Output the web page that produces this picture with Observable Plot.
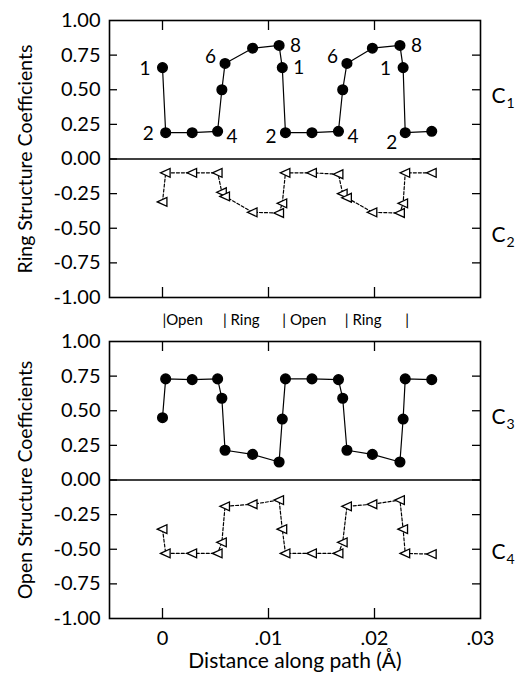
<!DOCTYPE html>
<html>
<head>
<meta charset="utf-8">
<script src="https://cdn.jsdelivr.net/npm/d3@7"></script>
<script src="https://cdn.jsdelivr.net/npm/@observablehq/plot@0.6"></script>
<style>
  html, body { margin: 0; padding: 0; background: #fff; }
  #chart svg { display: block; overflow: visible; }
</style>
</head>
<body>
<div id="chart"></div>
<script>
// ---- data ----
const xPath = [0.0000, 0.0003, 0.0028, 0.0052, 0.0056, 0.0059, 0.0085, 0.0110, 0.0113, 0.0116,
               0.0141, 0.0166, 0.0170, 0.0174, 0.0198, 0.0224, 0.0227, 0.0229, 0.0254];
const c1 = [0.66, 0.19, 0.19, 0.20, 0.50, 0.69, 0.80, 0.82, 0.66, 0.19,
            0.19, 0.20, 0.50, 0.69, 0.80, 0.82, 0.66, 0.19, 0.20];
const c2 = [-0.31, -0.10, -0.10, -0.10, -0.24, -0.27, -0.385, -0.39, -0.32, -0.10,
            -0.10, -0.11, -0.25, -0.28, -0.385, -0.39, -0.32, -0.10, -0.10];
const c3 = [0.45, 0.73, 0.725, 0.73, 0.59, 0.215, 0.185, 0.13, 0.44, 0.73,
            0.73, 0.725, 0.59, 0.215, 0.185, 0.13, 0.44, 0.73, 0.725];
const c4 = [-0.355, -0.53, -0.53, -0.53, -0.45, -0.19, -0.175, -0.145, -0.355, -0.53,
            -0.53, -0.53, -0.45, -0.19, -0.175, -0.145, -0.355, -0.53, -0.535];

// point numbering on C1
const c1LabelIndex = [0, 1, 3, 5, 7, 8, 9, 11, 13, 15, 16, 17];
const c1LabelText  = ["1", "2", "4", "6", "8", "1", "2", "4", "6", "8", "1", "2"];
const c1LabelSide  = ["L", "L", "RD", "LU", "R", "R", "LD", "RD", "LU", "R", "L", "LDD"];

// region labels between panels
const regionX    = [0, 0.0057, 0.0113, 0.0172, 0.0229];
const regionText = ["|Open", "| Ring", "| Open", "| Ring", "|"];

const yTicks = [-1, -0.75, -0.5, -0.25, 0, 0.25, 0.5, 0.75, 1];
const xTicks = [0, 0.01, 0.02, 0.03];
const xDomain = [-0.005, 0.03];
const yDomain = [-1, 1];

const topTitle = "Ring Structure Coefficients";
const bottomTitle = "Open Structure Coefficients";
const xTitle = "Distance along path (Å)";
const seriesNames = ["1", "2", "3", "4"];
const seriesLabelY = [0.45, -0.55, 0.45, -0.52];

// ---- helpers ----
const FONT = "Lato, 'DejaVu Sans', sans-serif";
const W = 519, ML = 109, MR = 39;
const plotW = W - ML - MR;
const TICK = 8;

const triLeft = {
  draw(ctx, size) {
    const r = Math.sqrt(size / Math.PI);
    ctx.moveTo(-r, 0);
    ctx.lineTo(r * 0.85, -r * 0.85);
    ctx.lineTo(r * 0.85, r * 0.85);
    ctx.closePath();
  }
};

const fmtY = d => (d < 0 ? "-" : "") + Math.abs(d).toFixed(2);
const fmtX = d => d === 0 ? "0" : d.toFixed(2).replace(/^0/, "");

function rows(ys) { return xPath.map((x, i) => ({x, y: ys[i]})); }

function frameMarks(plotH) {
  const inner = yTicks.filter(d => d > -1 && d < 1);
  return [
    Plot.tickY(inner, {y: d => d, insetRight: plotW - TICK, stroke: "black", strokeWidth: 1.3}),
    Plot.tickY(inner, {y: d => d, insetLeft: plotW - TICK, stroke: "black", strokeWidth: 1.3}),
    Plot.tickX(xTicks.slice(0, 3), {x: d => d, insetBottom: plotH - TICK - 2, stroke: "black", strokeWidth: 1.3}),
    Plot.tickX(xTicks.slice(0, 3), {x: d => d, insetTop: plotH - TICK - 2, stroke: "black", strokeWidth: 1.3}),
    Plot.ruleY([0], {stroke: "black", strokeWidth: 1.5}),
    Plot.frame({stroke: "black", strokeWidth: 1.6})
  ];
}

function seriesLabel(k, yv) {
  return [
    Plot.text([yv], {y: d => d, frameAnchor: "right", text: () => "C", dx: 11, textAnchor: "start", fontSize: 21, fill: "black"}),
    Plot.text([yv], {y: d => d, frameAnchor: "right", text: () => seriesNames[k], dx: 26, dy: 7, textAnchor: "start", fontSize: 14, fill: "black"})
  ];
}

const sideOffset = {
  L: [-12, 1, "end"], R: [11, 0, "start"], RD: [9, 6, "start"],
  LU: [-9, -7, "end"], LD: [-9, 4, "end"], LDD: [-8, 10, "end"]
};

// ---- top plot (ring structure) ----
const topH = 312, topMT = 20, topMB = 15;
const topPlotH = topH - topMT - topMB;
const r1 = rows(c1), r2 = rows(c2);
const labelRows = c1LabelIndex.map((i, j) => ({x: xPath[i], y: c1[i], t: c1LabelText[j], s: c1LabelSide[j]}));

const ringPlot = Plot.plot({
  width: W, height: topH,
  marginLeft: ML, marginRight: MR, marginTop: topMT, marginBottom: topMB,
  style: {fontFamily: FONT, color: "black", background: "white", overflow: "visible"},
  x: {domain: xDomain},
  y: {domain: yDomain},
  marks: [
    ...frameMarks(topPlotH),
    Plot.axisY({ticks: yTicks, tickSize: 0, tickPadding: 9, tickFormat: fmtY, fontSize: 20, label: null}),
    Plot.axisX({ticks: [], label: null}),
    Plot.text([topTitle], {frameAnchor: "left", rotate: -90, dx: -84, textAnchor: "middle", fontSize: 19.5, fill: "black"}),
    Plot.line(r1, {x: "x", y: "y", stroke: "black", strokeWidth: 1.2}),
    Plot.dot(r1, {x: "x", y: "y", r: 4.8, fill: "black", stroke: "black"}),
    Plot.line(r2, {x: "x", y: "y", stroke: "black", strokeWidth: 1.2, strokeDasharray: "3,2"}),
    Plot.dot(r2, {x: "x", y: "y", r: 5.2, symbol: triLeft, fill: "white", stroke: "black", strokeWidth: 1.3}),
    ...Object.keys(sideOffset).map(s => Plot.text(labelRows.filter(d => d.s === s), {
      x: "x", y: "y", text: "t", dx: sideOffset[s][0], dy: sideOffset[s][1], textAnchor: sideOffset[s][2],
      fontSize: 19, fill: "black"
    })),
    ...seriesLabel(0, seriesLabelY[0]),
    ...seriesLabel(1, seriesLabelY[1])
  ]
});

// ---- bottom plot (open structure) ----
const botH = 363, botMT = 29, botMB = 57;
const botPlotH = botH - botMT - botMB;
const r3 = rows(c3), r4 = rows(c4);

const openPlot = Plot.plot({
  width: W, height: botH,
  marginLeft: ML, marginRight: MR, marginTop: botMT, marginBottom: botMB,
  style: {fontFamily: FONT, color: "black", background: "white", overflow: "visible"},
  x: {domain: xDomain},
  y: {domain: yDomain},
  marks: [
    ...frameMarks(botPlotH),
    Plot.axisY({ticks: yTicks, tickSize: 0, tickPadding: 9, tickFormat: fmtY, fontSize: 20, label: null}),
    Plot.axisX({ticks: xTicks, tickSize: 0, tickPadding: 12, tickFormat: fmtX, fontSize: 20, label: null}),
    Plot.text([bottomTitle], {frameAnchor: "left", rotate: -90, dx: -84, textAnchor: "middle", fontSize: 19.5, fill: "black"}),
    Plot.text([xTitle], {frameAnchor: "bottom", dy: 49, fontSize: 21, fill: "black"}),
    Plot.text(regionX.map((x, i) => ({x, t: regionText[i]})), {
      x: "x", y: () => 1, text: "t", dy: -21, textAnchor: "start", fontSize: 15, fill: "black"
    }),
    Plot.line(r3, {x: "x", y: "y", stroke: "black", strokeWidth: 1.2}),
    Plot.dot(r3, {x: "x", y: "y", r: 4.8, fill: "black", stroke: "black"}),
    Plot.line(r4, {x: "x", y: "y", stroke: "black", strokeWidth: 1.2, strokeDasharray: "3,2"}),
    Plot.dot(r4, {x: "x", y: "y", r: 5.2, symbol: triLeft, fill: "white", stroke: "black", strokeWidth: 1.3}),
    ...seriesLabel(2, seriesLabelY[2]),
    ...seriesLabel(3, seriesLabelY[3])
  ]
});

const el = document.getElementById("chart");
el.appendChild(ringPlot);
el.appendChild(openPlot);
</script>
</body>
</html>
